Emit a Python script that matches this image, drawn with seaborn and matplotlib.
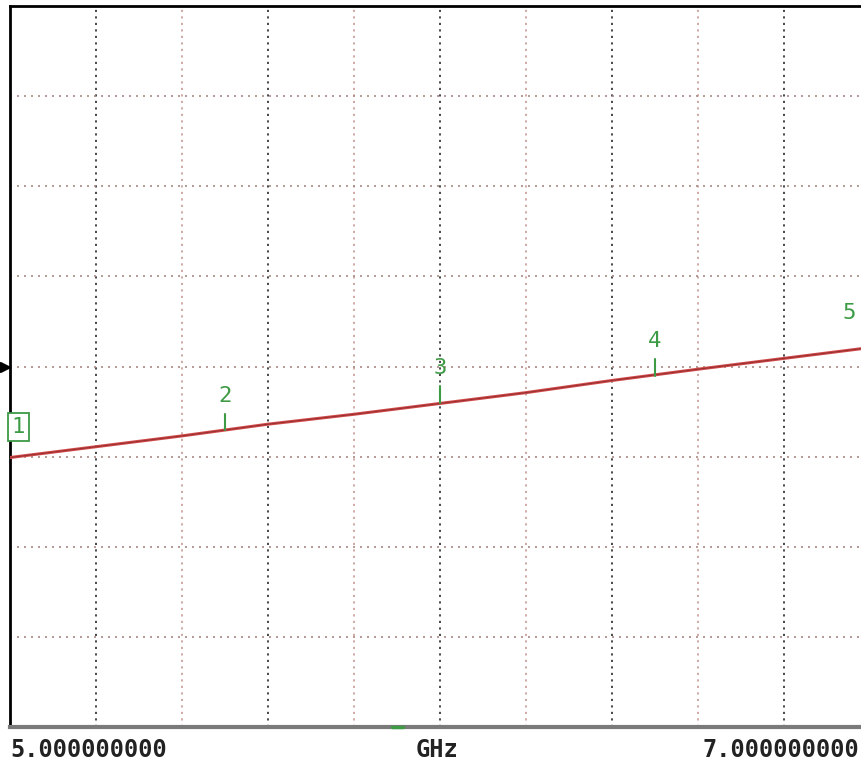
import matplotlib
matplotlib.use("Agg")
import matplotlib.pyplot as plt
import seaborn as sns
import pandas as pd
import numpy as np
from matplotlib.transforms import blended_transform_factory

# ---- data (frequency in GHz, trace value in divisions from reference) ----
freq_ghz = [5.0, 5.2, 5.4, 5.6, 5.8, 6.0, 6.2, 6.4, 6.6, 6.8, 7.0]
trace_val = [-1.01, -0.89, -0.77, -0.64, -0.53, -0.41, -0.29, -0.155, -0.03, 0.09, 0.21]

marker_ids = ["1", "2", "3", "4", "5"]
marker_freq = [5.0, 5.5, 6.0, 6.5, 7.0]
marker_val = [-1.01, -0.71, -0.40, -0.10, 0.21]

start_label = "5.000000000"
stop_label = "7.000000000"
unit_label = "GHz"

sns.set_style("white")
plt.rcParams["font.family"] = ["DejaVu Sans Mono", "DejaVu Sans"]

W, H = 861, 767
fig = plt.figure(figsize=(W / 100, H / 100), dpi=100)
left_px, right_px, top_px, bottom_px = 10, 870, 6, 727
ax = fig.add_axes([left_px / W, (H - bottom_px) / H,
                   (right_px - left_px) / W, (bottom_px - top_px) / H])
ax.set_xlim(5.0, 7.0)
ax.set_ylim(-4, 4)

# grid
xs = np.linspace(5.0, 7.0, 11)[1:-1]
for i, x in enumerate(xs):
    col = "#3a3a3a" if i % 2 == 0 else "#c9a49c"
    ax.axvline(x, color=col, lw=1.3, ls=(0, (1.2, 2.4)), zorder=1)
for y in range(-3, 4):
    ax.axhline(y, color="#a98a84", lw=1.2, ls=(0, (1.2, 3.0)), zorder=1)

# trace
df = pd.DataFrame({"f": freq_ghz, "v": trace_val})
sns.lineplot(data=df, x="f", y="v", ax=ax, color="#d24a4a", lw=2.2, zorder=3)
sns.lineplot(data=df, x="f", y="v", ax=ax, color="#6a1c1c", lw=0.8, alpha=0.55, zorder=4)

# markers
green = "#3d9a45"
for mid, mf, mv in zip(marker_ids, marker_freq, marker_val):
    if mid == "1":
        ax.text(mf + 0.004, mv + 0.34, mid, color=green, fontsize=16, ha="left", va="center",
                bbox=dict(boxstyle="square,pad=0.18", fc="white", ec=green, lw=1.3),
                zorder=6, clip_on=False)
    elif mid == "5":
        ax.plot([mf, mf], [mv, mv + 0.18], color=green, lw=1.5, zorder=5, clip_on=False)
        ax.text(6.968, mv + 0.38, mid, color=green, fontsize=16,
                ha="right", va="center", zorder=6, clip_on=False)
    else:
        ax.plot([mf, mf], [mv, mv + 0.18], color=green, lw=1.5, zorder=5, clip_on=False)
        ax.text(mf, mv + 0.38, mid, color=green, fontsize=16,
                ha="center", va="center", zorder=6, clip_on=False)

# reference arrow on left
tr = blended_transform_factory(ax.transAxes, ax.transData)
ax.plot([-0.006], [0], marker=">", color="black", markersize=7, transform=tr, clip_on=False)

# small green indicator on bottom frame
trb = blended_transform_factory(ax.transData, ax.transAxes)
ax.plot([5.888, 5.915], [0, 0], color=green, lw=2.5, transform=trb, clip_on=False, zorder=7)

# frame
ax.set_xticks([])
ax.set_yticks([])
ax.set_xlabel("")
ax.set_ylabel("")
for s in ["top", "left"]:
    ax.spines[s].set_color("black")
    ax.spines[s].set_linewidth(2)
ax.spines["bottom"].set_color("#7a7a7a")
ax.spines["bottom"].set_linewidth(3)
ax.spines["right"].set_visible(False)

# bottom annotations
ty = 1 - 750 / H
fig.text(10 / W, ty, start_label, fontsize=17, ha="left", va="center", color="#222222", fontweight="bold")
fig.text(437 / W, ty, unit_label, fontsize=17, ha="center", va="center", color="#222222", fontweight="bold")
fig.text(703 / W, ty, stop_label, fontsize=17, ha="left", va="center", color="#222222", fontweight="bold")

fig.savefig("out.png", dpi=100, facecolor="white")
